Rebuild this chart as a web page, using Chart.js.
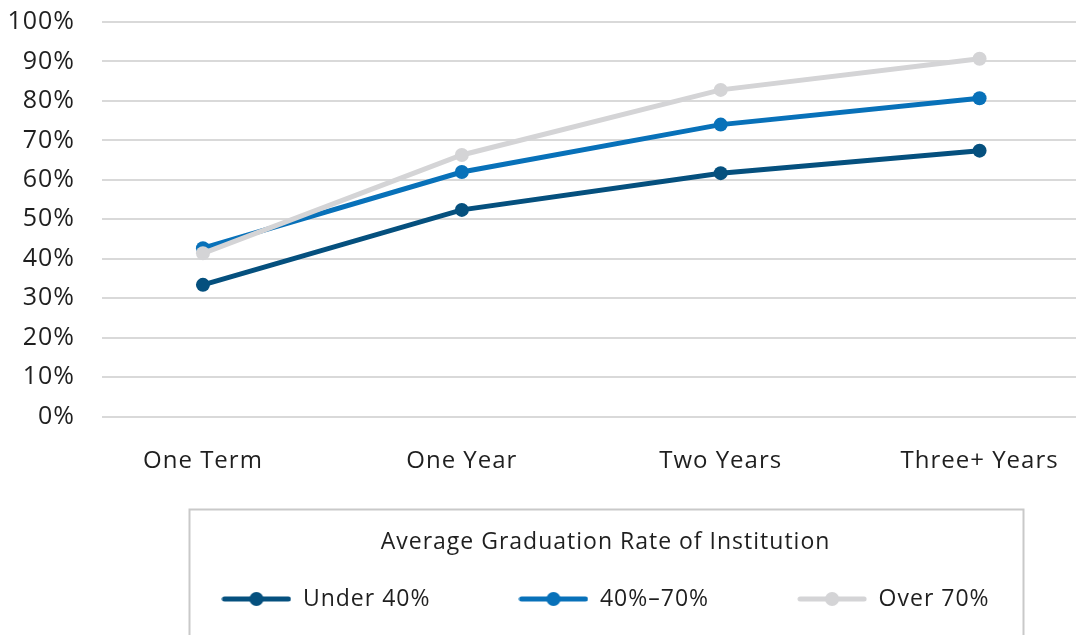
<!DOCTYPE html>
<html>
<head>
<meta charset="utf-8">
<script src="https://cdn.jsdelivr.net/npm/chart.js@4"></script>
<style>
  html, body { margin: 0; padding: 0; background: #fff; overflow: hidden; }
  #wrap { width: 1116px; height: 635px; }
</style>
</head>
<body>
<div id="wrap"><canvas id="chart" width="1116" height="635"></canvas></div>
<script>
// categories along the bottom
const categories = ['One Term', 'One Year', 'Two Years', 'Three+ Years'];

// share of students still enrolled (%)
const under40 = [33.4, 52.4, 61.7, 67.4];
const mid40to70 = [42.7, 62.0, 74.0, 80.7];
const over70 = [41.4, 66.3, 82.8, 90.7];

const seriesNames = ['Under 40%', '40%\u201370%', 'Over 70%'];
const seriesColors = ['#05507e', '#0871b9', '#d4d4d6'];

const yTicks = [0, 10, 20, 30, 40, 50, 60, 70, 80, 90, 100];

const FONT = "'Open Sans', sans-serif";

// legend sample: line with a dot in the middle
function makeSample(color) {
    const c = document.createElement('canvas');
    c.width = 70;
    c.height = 16;
    const g = c.getContext('2d');
    g.strokeStyle = color;
    g.lineWidth = 5;
    g.lineCap = 'round';
    g.beginPath();
    g.moveTo(3, 8);
    g.lineTo(67, 8);
    g.stroke();
    g.fillStyle = color;
    g.beginPath();
    g.arc(35, 8, 7, 0, Math.PI * 2);
    g.fill();
    return c;
}

function toPoints(values) {
    return values.map((v, i) => ({x: i, y: v}));
}

// the source font runs a bit wider, so space the letters out a little
const spacing = {
    id: 'spacing',
    beforeUpdate(chart) { chart.ctx.letterSpacing = '1px'; },
    beforeLayout(chart) { chart.ctx.letterSpacing = '1px'; },
    beforeDraw(chart) { chart.ctx.letterSpacing = '1px'; }
};

// thin grey frame around the legend
const legendFrame = {
    id: 'legendFrame',
    afterDraw(chart) {
        const lg = chart.legend;
        const ctx = chart.ctx;
        const cx = (lg.left + lg.right) / 2;
        ctx.save();
        ctx.strokeStyle = '#c9c9c9';
        ctx.lineWidth = 2;
        ctx.strokeRect(cx - 416, lg.top + 36, 834, chart.height);
        ctx.restore();
    }
};

const allSeries = [under40, mid40to70, over70];

const datasets = allSeries.map((vals, i) => ({
    label: seriesNames[i],
    data: toPoints(vals),
    borderColor: seriesColors[i],
    backgroundColor: seriesColors[i],
    borderWidth: 5,
    pointRadius: 7,
    pointHoverRadius: 7,
    pointBorderWidth: 0,
    tension: 0,
    order: 2 - i   // grey line sits on top
}));

const ctx = document.getElementById('chart').getContext('2d');

new Chart(ctx, {
    type: 'line',
    data: { datasets: datasets },
    plugins: [spacing, legendFrame],
    options: {
        responsive: false,
        animation: false,
        layout: { padding: { top: 22, bottom: 14.5, left: 0, right: 2 } },
        scales: {
            x: {
                type: 'linear',
                min: -0.39,
                max: 3.5,
                afterFit: (s) => { s.height = 56.8; s.paddingLeft = 0; s.paddingRight = 0; },
                grid: { display: false, drawTicks: false },
                border: { display: false },
                ticks: {
                    stepSize: 1,
                    includeBounds: false,
                    autoSkip: false,
                    maxRotation: 0,
                    padding: 30,
                    color: '#1f1f1f',
                    font: { family: FONT, size: 24 },
                    callback: (v) => categories[v]
                }
            },
            y: {
                min: yTicks[0],
                max: yTicks[yTicks.length - 1],
                afterFit: (s) => { s.width = 102; s.paddingTop = 0; s.paddingBottom = 0; },
                afterBuildTicks: (s) => { s.ticks = yTicks.map(v => ({value: v})); },
                grid: { color: '#d9d9d9', lineWidth: 2, drawTicks: false },
                border: { display: false },
                ticks: {
                    padding: 27,
                    color: '#1f1f1f',
                    font: { family: FONT, size: 25 },
                    callback: (v) => v + '%'
                }
            }
        },
        plugins: {
            tooltip: { enabled: false },
            legend: {
                position: 'bottom',
                fullSize: false,
                maxHeight: 147,
                title: {
                    display: true,
                    text: 'Average Graduation Rate of Institution',
                    color: '#1f1f1f',
                    font: { family: FONT, size: 23 },
                    padding: { top: 57, bottom: -58.6 }
                },
                labels: {
                    usePointStyle: true,
                    pointStyleWidth: 70,
                    padding: 88,
                    color: '#1f1f1f',
                    font: { family: FONT, size: 23 },
                    sort: (a, b) => a.datasetIndex - b.datasetIndex,
                    generateLabels: (chart) => {
                        const items = Chart.defaults.plugins.legend.labels.generateLabels(chart);
                        items.forEach(it => { it.pointStyle = makeSample(seriesColors[it.datasetIndex]); });
                        return items;
                    }
                }
            }
        }
    }
});
</script>
</body>
</html>
